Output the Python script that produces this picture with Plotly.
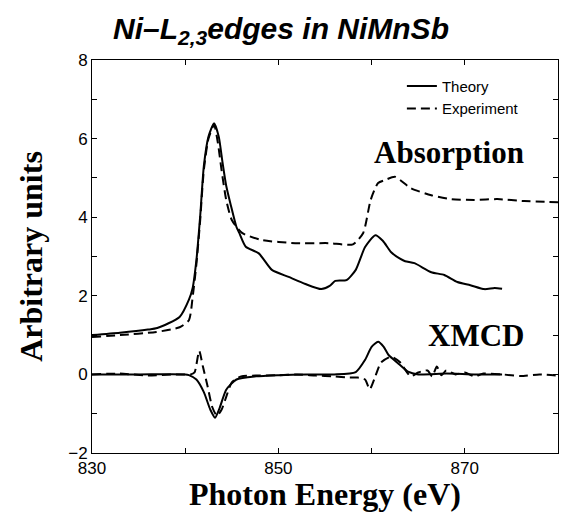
import plotly.graph_objects as go

# Absorption - theory
abs_th_x = [830, 833, 836, 837, 839.4, 840.4, 840.8, 841.2, 841.6, 842.0, 842.5, 843.1, 843.6, 844.0, 844.4,
            844.9, 845.5, 845.8, 846.5, 847.9, 849.3, 851.1, 852.9, 854.6, 855.5, 856.1, 857.3, 858.3,
            859.3, 860.4, 861.2, 862.1, 863.0, 863.6, 864.6, 866.4, 867.8, 869.2, 870.6, 872.1, 873.2, 874.0]
abs_th_y = [1.0, 1.06, 1.14, 1.18, 1.46, 1.9, 2.2, 2.9, 4.0, 5.3, 6.05, 6.39, 6.05, 5.4, 4.8,
            4.3, 3.75, 3.6, 3.25, 3.08, 2.66, 2.48, 2.3, 2.17, 2.25, 2.38, 2.4, 2.66,
            3.24, 3.54, 3.4, 3.11, 2.95, 2.88, 2.83, 2.6, 2.53, 2.35, 2.27, 2.17, 2.2, 2.18]

# Absorption - experiment
abs_ex_x = [830, 833, 836.9, 839.4, 840.4, 840.8, 841.2, 841.6, 842.0, 842.5, 843.1, 843.5, 843.9, 844.4,
            845.0, 846.1, 848.2, 851.8, 855.4, 858.0, 859.1, 859.9, 860.7, 861.5, 862.5, 864.2, 866.4,
            868.5, 871, 873.5, 876.4, 880]
abs_ex_y = [0.95, 1.0, 1.08, 1.2, 1.38, 1.97, 2.8, 3.9, 5.2, 6.0, 6.35, 5.9, 5.2, 4.44,
            3.93, 3.6, 3.42, 3.34, 3.34, 3.31, 3.6, 4.44, 4.87, 4.95, 5.03, 4.74, 4.56,
            4.46, 4.44, 4.46, 4.41, 4.38]

# XMCD - theory
xm_th_x = [830, 835, 840, 840.4, 841.2, 842.0, 842.7, 843.2, 843.7, 844.4, 845.5, 847.6, 850, 853, 856,
           858.3, 859.3, 860.0, 860.7, 861.3, 861.8, 862.8, 863.9, 865, 868, 871, 874]
xm_th_y = [0, 0, 0, -0.02, -0.13, -0.45, -0.9, -1.1, -0.85, -0.39, -0.13, -0.05, -0.02, 0.0, 0.0,
           0.06, 0.37, 0.7, 0.83, 0.7, 0.5, 0.29, 0.07, 0.0, 0.02, 0.0, 0.0]

# XMCD - experiment
xm_ex_x = [830, 833, 836, 839, 840.6, 841.0, 841.5, 841.9, 842.4, 842.9, 843.4, 843.9, 844.4, 845.0, 846,
           848, 850, 852, 854, 856, 857.5, 858.5, 859.3, 859.8, 860.4, 861.0, 862.1, 863.0, 864.2, 865,
           866, 866.5, 867, 867.5, 868, 869, 870, 871, 872, 874, 876, 878, 880]
xm_ex_y = [0, 0.02, -0.03, 0.0, 0.0, 0.05, 0.6, 0.2, -0.3, -0.83, -1.05, -0.9, -0.57, -0.2, -0.05,
           -0.03, -0.02, 0.0, -0.03, -0.05, -0.08, -0.08, -0.13, -0.38, -0.05, 0.3, 0.45, 0.32, -0.05, 0.05,
           0.1, -0.05, 0.2, -0.02, 0.1, 0.0, 0.05, -0.05, 0.02, 0.0, -0.04, 0.0, -0.03]

solid = dict(color="black", width=2, shape="spline", smoothing=0.6)
dashed = dict(color="black", width=2, dash="9px,5px", shape="spline", smoothing=0.6)

fig = go.Figure()
fig.add_trace(go.Scatter(x=abs_th_x, y=abs_th_y, mode="lines", line=solid, name="Theory",
                         legendgroup="th", showlegend=True))
fig.add_trace(go.Scatter(x=abs_ex_x, y=abs_ex_y, mode="lines", line=dashed, name="Experiment",
                         legendgroup="ex", showlegend=True))
fig.add_trace(go.Scatter(x=xm_th_x, y=xm_th_y, mode="lines", line=solid, name="Theory",
                         legendgroup="th", showlegend=False))
fig.add_trace(go.Scatter(x=xm_ex_x, y=xm_ex_y, mode="lines", line=dashed, name="Experiment",
                         legendgroup="ex", showlegend=False))

axis_common = dict(showline=True, linecolor="black", linewidth=1, mirror="allticks",
                   ticks="inside", ticklen=5, tickcolor="black", showgrid=False, zeroline=False,
                   tickfont=dict(family="Liberation Sans, Arial", size=17, color="black"))

fig.update_xaxes(range=[830, 880], tick0=830, dtick=20,
                 minor=dict(dtick=10, ticks="inside", ticklen=5, tickcolor="black"),
                 title=dict(text="<b>Photon Energy (eV)</b>", standoff=0,
                            font=dict(family="Liberation Serif, Times New Roman", size=32, color="black")),
                 **axis_common)
fig.update_yaxes(range=[-2, 8], tick0=-2, dtick=2,
                 minor=dict(dtick=1, ticks="inside", ticklen=5, tickcolor="black"),
                 title=dict(text="<b>Arbitrary units</b>", standoff=16,
                            font=dict(family="Liberation Serif, Times New Roman", size=32, color="black")),
                 **axis_common)

fig.update_layout(
    width=562, height=512,
    margin=dict(l=92, r=4, t=60, b=59),
    paper_bgcolor="white", plot_bgcolor="white",
    title=dict(text="<b><i>Ni–L<sub>2,3</sub>edges in NiMnSb</i></b>", x=0.5, xanchor="center",
               y=0.945, yanchor="middle",
               font=dict(family="Liberation Sans, Arial", size=30, color="black")),
    legend=dict(x=0.665, y=0.975, xanchor="left", yanchor="top", bgcolor="rgba(0,0,0,0)",
                font=dict(family="Liberation Sans, Arial", size=15, color="black"),
                tracegroupgap=0, itemwidth=30),
    annotations=[
        dict(text="<b>Absorption</b>", x=868.3, y=5.65, xref="x", yref="y", showarrow=False,
             font=dict(family="Liberation Serif, Times New Roman", size=31, color="black")),
        dict(text="<b>XMCD</b>", x=871.2, y=1.0, xref="x", yref="y", showarrow=False,
             font=dict(family="Liberation Serif, Times New Roman", size=31, color="black")),
    ],
)

fig.write_html("out.html")
